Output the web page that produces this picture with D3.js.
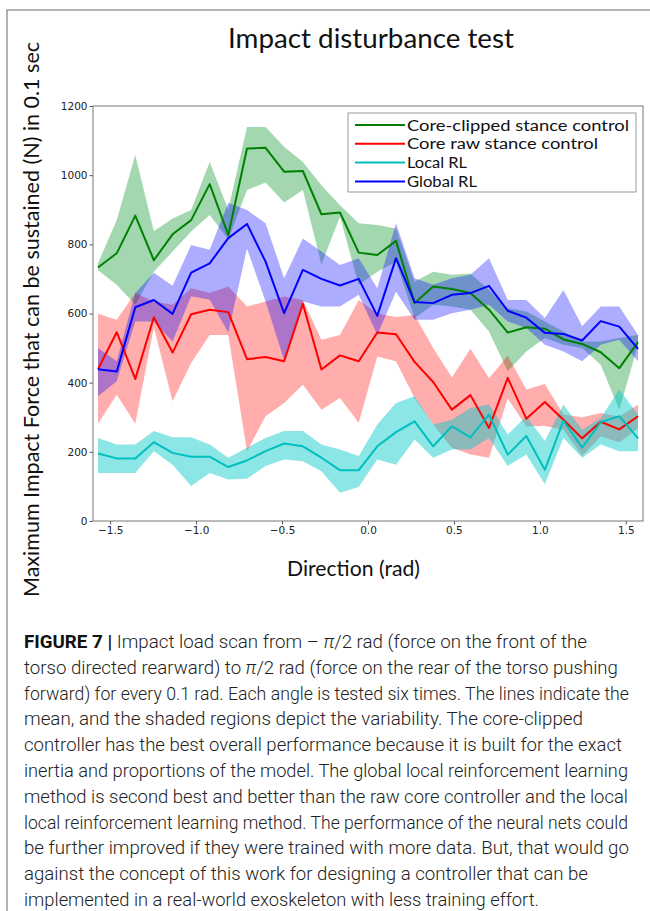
<!DOCTYPE html>
<html>
<head>
<meta charset="utf-8">
<script src="https://cdn.jsdelivr.net/npm/d3@7"></script>
<style>
  body { margin: 0; background: #fff; }
</style>
</head>
<body>
<div id="chart"></div>
<script>
// *********************************************
// DATA (30 directions from -pi/2 to pi/2)
// *********************************************

var directions = [-1.571, -1.462, -1.354, -1.246, -1.137, -1.029, -0.921, -0.813, -0.704, -0.596,
                  -0.488, -0.379, -0.271, -0.163, -0.054, 0.054, 0.163, 0.271, 0.379, 0.488,
                  0.596, 0.704, 0.813, 0.921, 1.029, 1.137, 1.246, 1.354, 1.462, 1.571];

// Core-clipped stance control
var clippedMean  = [733, 774, 883, 754, 829, 870, 974, 827, 1077, 1079, 1010, 1012, 887, 892, 776, 769, 810, 630, 678, 671, 659, 611, 545, 560, 556, 525, 512, 488, 442, 517];
var clippedUpper = [745, 870, 1058, 838, 875, 899, 1038, 900, 1139, 1139, 1082, 1038, 971, 913, 861, 856, 846, 692, 721, 712, 716, 668, 615, 606, 577, 548, 519, 519, 529, 538];
var clippedLower = [725, 683, 625, 721, 779, 837, 885, 815, 957, 979, 921, 957, 742, 880, 683, 721, 750, 587, 625, 620, 611, 548, 433, 490, 529, 510, 500, 452, 322, 510];

// Core raw stance control
var rawMean  = [439, 546, 411, 589, 487, 598, 611, 604, 468, 474, 462, 628, 438, 479, 462, 545, 540, 460, 402, 322, 364, 269, 414, 296, 344, 293, 239, 287, 265, 303];
var rawUpper = [599, 582, 659, 635, 625, 673, 659, 678, 620, 635, 649, 639, 524, 538, 639, 600, 590, 596, 500, 415, 498, 413, 478, 380, 396, 308, 300, 312, 302, 336];
var rawLower = [281, 365, 281, 560, 346, 457, 538, 538, 202, 303, 341, 394, 322, 356, 284, 476, 462, 356, 279, 212, 192, 183, 355, 273, 275, 264, 188, 244, 228, 268];

// Local RL
var localMean  = [195, 181, 181, 228, 197, 186, 186, 156, 175, 202, 224, 216, 183, 147, 147, 216, 257, 288, 216, 274, 242, 308, 192, 246, 148, 290, 212, 286, 303, 239];
var localUpper = [240, 221, 221, 260, 242, 242, 221, 183, 212, 240, 260, 260, 221, 207, 188, 279, 341, 361, 279, 293, 327, 337, 250, 303, 231, 337, 264, 298, 380, 308];
var localLower = [139, 139, 139, 202, 163, 101, 139, 120, 122, 159, 178, 173, 144, 82, 98, 178, 163, 236, 183, 207, 207, 240, 159, 192, 106, 240, 183, 221, 202, 202];

// Global RL
var globalMean  = [439, 432, 618, 639, 599, 718, 745, 818, 859, 750, 601, 726, 700, 681, 700, 593, 760, 633, 630, 654, 659, 680, 608, 588, 544, 541, 522, 578, 562, 498];
var globalUpper = [500, 462, 659, 718, 680, 798, 784, 920, 899, 861, 702, 817, 779, 740, 760, 673, 861, 702, 683, 702, 712, 760, 639, 639, 587, 668, 563, 620, 620, 538];
var globalLower = [361, 404, 577, 577, 519, 650, 640, 545, 788, 635, 465, 635, 620, 620, 654, 538, 663, 582, 582, 601, 611, 625, 577, 558, 510, 490, 462, 510, 524, 462];

var seriesNames = ["Core-clipped stance control", "Core raw stance control", "Local RL", "Global RL"];

var xTicks = [-1.5, -1.0, -0.5, 0.0, 0.5, 1.0, 1.5];
var yTicks = [0, 200, 400, 600, 800, 1000, 1200];

var titleText = "Impact disturbance test";
var xLabel = "Direction (rad)";
var yLabel = "Maximum Impact Force that can be sustained (N) in 0.1 sec";

var captionLines = [
  "Impact load scan from \u2013 \u03c0/2 rad (force on the front of the",
  "torso directed rearward) to \u03c0/2 rad (force on the rear of the torso pushing",
  "forward) for every 0.1 rad. Each angle is tested six times. The lines indicate the",
  "mean, and the shaded regions depict the variability. The core-clipped",
  "controller has the best overall performance because it is built for the exact",
  "inertia and proportions of the model. The global local reinforcement learning",
  "method is second best and better than the raw core controller and the local",
  "local reinforcement learning method. The performance of the neural nets could",
  "be further improved if they were trained with more data. But, that would go",
  "against the concept of this work for designing a controller that can be",
  "implemented in a real-world exoskeleton with less training effort."
];
var captionEnds = [587, 618, 629, 583, 622, 628, 628, 628, 629, 588, 539];


// *********************************************
// SETUP
// *********************************************

var width = 650, height = 911;
var margin = {left: 93, right: 7, top: 106, bottom: 390};   // plot box 93..643 x 106..521
var plotW = width - margin.left - margin.right;
var plotH = height - margin.top - margin.bottom;

var labelFont = "'Segoe UI', Lato, 'Open Sans', sans-serif";

var svg = d3.select("#chart").append("svg")
    .attr("width", width)
    .attr("height", height);

// panel frame (left and top edges of the figure panel)
svg.append("path")
    .attr("d", "M7,911V10H650")
    .style("fill", "none")
    .style("stroke", "#9a9a9a")
    .style("stroke-width", 1.5);

var plot = svg.append("g").attr("id", "plot")
    .attr("transform", "translate(" + margin.left + "," + margin.top + ")");

var x = d3.scaleLinear().domain([-1.6, 1.6]).range([0, plotW]);
var y = d3.scaleLinear().domain([0, 1200]).range([plotH, 0]);

var series = [
  {name: seriesNames[0], mean: clippedMean, upper: clippedUpper, lower: clippedLower, line: "#008000", fill: "#1a9a3a", alpha: 0.4},
  {name: seriesNames[1], mean: rawMean,     upper: rawUpper,     lower: rawLower,     line: "#ff0000", fill: "#ff0000", alpha: 0.32},
  {name: seriesNames[2], mean: localMean,   upper: localUpper,   lower: localLower,   line: "#00bfbf", fill: "#00c8c8", alpha: 0.45},
  {name: seriesNames[3], mean: globalMean,  upper: globalUpper,  lower: globalLower,  line: "#0000ff", fill: "#0000ff", alpha: 0.32}
];


// *********************************************
// BANDS AND MEAN LINES
// *********************************************

var area = d3.area()
    .x(function(d, i) { return x(directions[i]); })
    .y0(function(d) { return y(d[0]); })
    .y1(function(d) { return y(d[1]); });

var line = d3.line()
    .x(function(d, i) { return x(directions[i]); })
    .y(function(d) { return y(d); });

plot.append("g").attr("id", "bands")
  .selectAll("path")
  .data(series).enter()
  .append("path")
    .attr("d", function(s) { return area(s.lower.map(function(v, i) { return [v, s.upper[i]]; })); })
    .style("fill", function(s) { return s.fill; })
    .style("fill-opacity", function(s) { return s.alpha; })
    .style("stroke", "none");

plot.append("g").attr("id", "means")
  .selectAll("path")
  .data(series).enter()
  .append("path")
    .attr("d", function(s) { return line(s.mean); })
    .style("fill", "none")
    .style("stroke", function(s) { return s.line; })
    .style("stroke-width", 2)
    .style("stroke-linejoin", "round");


// *********************************************
// AXES
// *********************************************

var xAxis = plot.append("g")
    .attr("transform", "translate(0," + plotH + ")")
    .call(d3.axisBottom(x).tickValues(xTicks).tickFormat(d3.format(".1f")).tickSize(3.5).tickPadding(2).tickSizeOuter(0));

var yAxis = plot.append("g")
    .call(d3.axisLeft(y).tickValues(yTicks).tickFormat(d3.format("d")).tickSize(3.5).tickPadding(2).tickSizeOuter(0));

[xAxis, yAxis].forEach(function(a) {
  a.select(".domain").remove();
  a.selectAll("line").style("stroke", "#555");
  a.selectAll("text")
    .style("font-family", "'DejaVu Sans', sans-serif")
    .style("font-size", "10.5px")
    .style("fill", "#222");
});

// box round the plot
plot.append("rect")
    .attr("width", plotW)
    .attr("height", plotH)
    .style("fill", "none")
    .style("stroke", "#777")
    .style("stroke-width", 1);


// *********************************************
// LEGEND
// *********************************************

var legend = plot.append("g").attr("id", "legend")
    .attr("transform", "translate(" + (348 - margin.left) + "," + (113 - margin.top) + ")");

legend.append("rect")
    .attr("width", 288)
    .attr("height", 79)
    .style("fill", "#fff")
    .style("fill-opacity", 0.85)
    .style("stroke", "#999")
    .style("stroke-width", 1);

var legendWidths = [222, 191, 60, 70];
var rows = legend.selectAll("g.row")
  .data(series).enter()
  .append("g").attr("class", "row")
    .attr("transform", function(d, i) { return "translate(0," + (12 + i * 18.8) + ")"; });

rows.append("line")
    .attr("x1", 7).attr("x2", 57)
    .style("stroke", function(s) { return s.line; })
    .style("stroke-width", 2);

rows.append("text")
    .attr("x", 59)
    .attr("dy", "0.36em")
    .attr("textLength", function(d, i) { return legendWidths[i]; })
    .attr("lengthAdjust", "spacingAndGlyphs")
    .style("font-family", labelFont)
    .style("font-size", "15.5px")
    .style("fill", "#111")
    .text(function(s) { return s.name; });


// *********************************************
// TITLE AND AXIS LABELS
// *********************************************

svg.append("text")
    .attr("x", 228).attr("y", 48)
    .attr("textLength", 286)
    .attr("lengthAdjust", "spacingAndGlyphs")
    .style("font-family", labelFont)
    .style("font-size", "27px")
    .style("fill", "#111")
    .text(titleText);

svg.append("text")
    .attr("x", 287).attr("y", 576)
    .attr("textLength", 133)
    .attr("lengthAdjust", "spacingAndGlyphs")
    .style("font-family", labelFont)
    .style("font-size", "21px")
    .style("fill", "#111")
    .text(xLabel);

svg.append("text")
    .attr("transform", "translate(39,597) rotate(-90)")
    .attr("textLength", 555)
    .attr("lengthAdjust", "spacingAndGlyphs")
    .style("font-family", labelFont)
    .style("font-size", "21px")
    .style("fill", "#111")
    .text(yLabel);


// *********************************************
// CAPTION
// *********************************************

var captionFont = "Roboto, 'Liberation Sans', Arial, sans-serif";

var caption = svg.append("g").attr("id", "caption");
captionLines.forEach(function(txt, i) {
  var t = caption.append("text")
      .attr("x", 24)
      .attr("y", 648 + i * 25.8)
      .attr("textLength", captionEnds[i] - 24)
      .attr("lengthAdjust", "spacingAndGlyphs")
      .style("font-family", captionFont)
      .style("font-weight", 300)
      .style("font-size", "18px")
      .style("fill", "#222");
  if (i == 0) {
    t.append("tspan").style("font-weight", "bold").style("fill", "#111").text("FIGURE 7 | ");
  }
  // italic pi symbols
  var parts = txt.split("\u03c0");
  parts.forEach(function(p, j) {
    if (j > 0) t.append("tspan").style("font-style", "italic").text("\u03c0");
    t.append("tspan").text(p);
  });
});
</script>
</body>
</html>
